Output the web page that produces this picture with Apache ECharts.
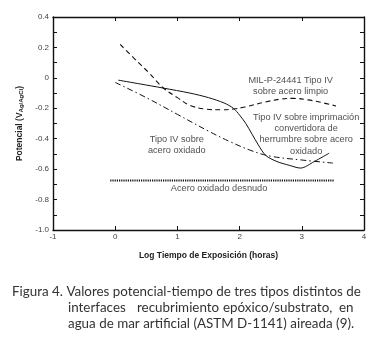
<!DOCTYPE html>
<html><head><meta charset="utf-8">
<script src="https://cdn.jsdelivr.net/npm/echarts@6/dist/echarts.min.js"></script>
<style>html,body{margin:0;padding:0;background:#fff}#c{width:380px;height:341px}</style>
</head><body><div id="c"></div>
<script>
// ---- data ----
const xTicks = [-1, 0, 1, 2, 3, 4];
const yTicks = [-1.0, -0.8, -0.6, -0.4, -0.2, 0, 0.2, 0.4];
const limpioX = [0.08, 0.3, 0.55, 0.77, 1.0, 1.2, 1.45, 1.7, 1.9, 2.1, 2.4, 2.65, 2.87, 3.1, 3.35, 3.55];
const limpioY = [0.22, 0.13, 0.03, -0.065, -0.13, -0.18, -0.205, -0.21, -0.205, -0.19, -0.16, -0.14, -0.135, -0.145, -0.165, -0.185];
const convX = [0.05, 0.4, 0.77, 1.2, 1.5, 1.75, 1.9, 2.0, 2.1, 2.2, 2.3, 2.42, 2.6, 2.8, 2.98, 3.2, 3.44];
const convY = [-0.015, -0.04, -0.067, -0.1, -0.13, -0.165, -0.2, -0.245, -0.3, -0.37, -0.44, -0.51, -0.55, -0.575, -0.593, -0.55, -0.495];
const oxidX = [0.0, 0.5, 1.0, 1.5, 1.85, 2.2, 2.5, 3.0, 3.5];
const oxidY = [-0.03, -0.13, -0.24, -0.35, -0.42, -0.48, -0.515, -0.54, -0.56];
const desnudoX = [-0.08, 3.52];
const desnudoY = [-0.675, -0.675];
const annotTexts = ['MIL-P-24441 Tipo IV\nsobre acero limpio', 'Tipo IV sobre imprimación\nconvertidora de\nherrumbre sobre acero\noxidado', 'Tipo IV sobre\nacero oxidado', 'Acero oxidado desnudo'];
const annotX = [2.82, 3.07, 0.99, 1.67];
const annotY = [-0.055, -0.37, -0.44, -0.73];
const xTitle = 'Log Tiempo de Exposición (horas)';
const captionLine1 = 'Figura 4. Valores potencial-tiempo de tres tipos distintos de';
const captionLine2Words = ['interfaces', 'recubrimiento', 'epóxico/substrato,', 'en'];
const captionLine3 = 'agua de mar artificial (ASTM D-1141) aireada (9).';

const zip = (xs, ys) => xs.map((x, i) => [x, ys[i]]);
const lbl = {fontFamily: 'Liberation Sans, Arial', fontSize: 8, color: '#444'};
const axisLine = {show: true, onZero: false, lineStyle: {color: '#111', width: 1.4}};

// fit caption font so that line 1 spans the measured width
const cv = document.createElement('canvas').getContext('2d');
cv.font = '100px Lato';
const capSize = Math.round(350 / cv.measureText(captionLine1).width * 1000) / 10;

const chart = echarts.init(document.getElementById('c'), null, {renderer: 'canvas'});
const capFont = {fontFamily: 'Lato', fontSize: capSize, fill: '#333'};
const wordX = [68, 137, 223, 339];
const graphics = [
  {type: 'text', left: 12, top: 285, style: Object.assign({text: captionLine1}, capFont)},
  {type: 'text', left: 68, top: 317, style: Object.assign({text: captionLine3}, capFont)}
].concat(captionLine2Words.map((w, i) => ({type: 'text', left: wordX[i], top: 301, style: Object.assign({text: w}, capFont)})));

chart.setOption({
  animation: false,
  grid: {left: 53, right: 16, top: 17, bottom: 111},
  xAxis: [
    {type: 'value', min: -1, max: 4, interval: 1, position: 'bottom',
     name: xTitle, nameLocation: 'middle', nameGap: 21,
     nameTextStyle: {fontFamily: 'Liberation Sans, Arial', fontSize: 8.5, fontWeight: 'bold', color: '#222'},
     axisLine: axisLine, axisTick: {show: true, inside: true, length: 4, lineStyle: {color: '#111'}},
     axisLabel: Object.assign({margin: 3, formatter: v => String(v)}, lbl), splitLine: {show: false}},
    {type: 'value', min: -1, max: 4, interval: 1, position: 'top',
     axisLine: axisLine, axisTick: {show: true, inside: true, length: 4, lineStyle: {color: '#111'}},
     axisLabel: {show: false}, splitLine: {show: false}}
  ],
  yAxis: [
    {type: 'value', min: -1, max: 0.4, interval: 0.2, position: 'left',
     name: '{a|Potencial (V}{b|Ag/AgCl}{a|)}', nameLocation: 'middle', nameGap: 21, nameRotate: 90,
     nameTextStyle: {rich: {
       a: {fontFamily: 'Liberation Sans, Arial', fontSize: 8.5, fontWeight: 'bold', color: '#222'},
       b: {fontFamily: 'Liberation Sans, Arial', fontSize: 6, fontWeight: 'bold', color: '#222', padding: [4, 0, 0, 0]}}},
     axisLine: axisLine, axisTick: {show: true, inside: true, length: 4, lineStyle: {color: '#111'}},
     minorTick: {show: true, splitNumber: 2, length: 4, lineStyle: {color: '#111'}},
     axisLabel: Object.assign({margin: 4, formatter: v => Math.abs(v) < 1e-9 ? '0' : v.toFixed(1)}, lbl),
     splitLine: {show: false}, minorSplitLine: {show: false}},
    {type: 'value', min: -1, max: 0.4, interval: 0.2, position: 'right',
     axisLine: axisLine, axisTick: {show: true, inside: true, length: 4, lineStyle: {color: '#111'}},
     minorTick: {show: true, splitNumber: 2, length: 4, lineStyle: {color: '#111'}},
     axisLabel: {show: false}, splitLine: {show: false}}
  ],
  series: [
    {type: 'line', data: zip(limpioX, limpioY), smooth: 0.4, showSymbol: false,
     lineStyle: {color: '#111', width: 1.1, type: [5, 3.5]}},
    {type: 'line', data: zip(convX, convY), smooth: 0.3, showSymbol: false,
     lineStyle: {color: '#111', width: 1.0, type: 'solid'}},
    {type: 'line', data: zip(oxidX, oxidY), smooth: 0.4, showSymbol: false,
     lineStyle: {color: '#111', width: 1.0, type: [6, 3, 1.5, 3]}},
    {type: 'line', data: zip(desnudoX, desnudoY), showSymbol: false,
     lineStyle: {color: '#111', width: 2, type: [1.2, 1]}},
    {type: 'scatter', symbolSize: 0, silent: true,
     data: annotTexts.map((t, i) => ({name: t, value: [annotX[i], annotY[i]]})),
     label: {show: true, position: 'inside', formatter: '{b}', align: 'center',
             fontFamily: 'Liberation Sans, Arial', fontSize: 9.2, lineHeight: 11.3, color: '#222'}}
  ],
  graphic: graphics
});
</script></body></html>
